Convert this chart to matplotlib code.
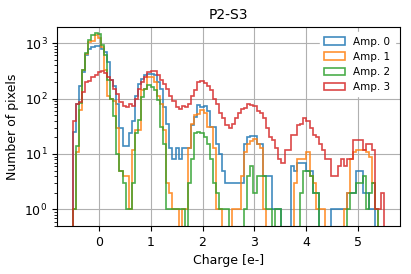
import numpy as np
import matplotlib
matplotlib.use("Agg")
import matplotlib.pyplot as plt

# histogram counts per bin, 100 bins of 0.06 e- from -0.5 to 5.5
edges = np.linspace(-0.5, 5.5, 101)

amp0 = [25, 80, 170, 300, 600, 800, 850, 900, 880, 800, 700, 450, 220, 170, 80, 30, 14, 14, 24, 40,
        110, 180, 230, 270, 280, 280, 270, 200, 150, 70, 35, 13, 8, 13, 8, 13, 13, 13, 34, 47,
        78, 70, 72, 60, 31, 31, 15, 10, 5, 3, 3, 3, 3, 3, 3, 15, 20, 21, 21, 15,
        15, 4, 4, 4, 1, 1, 1, 0, 0, 0, 6, 5, 7, 7, 7, 5, 5, 2, 2, 0,
        0, 0, 0, 1, 1, 1, 1, 1, 2, 2, 2, 5, 5, 2, 2, 1, 1, 0, 0, 0]

amp1 = [1, 11, 63, 330, 650, 1050, 1100, 1380, 1250, 850, 330, 110, 100, 90, 30, 5, 4, 4, 1, 12,
        27, 27, 145, 150, 245, 245, 200, 110, 80, 27, 3, 2, 1, 1, 0, 1, 1, 13, 35, 50,
        52, 62, 55, 31, 31, 13, 1, 1, 0, 0, 0, 1, 1, 1, 4, 11, 15, 17, 19, 15,
        13, 1, 0, 0, 0, 0, 0, 0, 0, 0, 0, 3, 8, 8, 8, 11, 4, 3, 1, 1,
        1, 0, 0, 0, 0, 0, 0, 1, 2, 8, 11, 12, 12, 12, 11, 9, 3, 1, 0, 0]

amp2 = [1, 14, 84, 330, 670, 1140, 1400, 1500, 1450, 930, 600, 220, 100, 48, 10, 5, 3, 1, 1, 3,
        24, 41, 107, 152, 175, 160, 140, 95, 31, 15, 1, 1, 1, 1, 1, 1, 0, 3, 8, 24,
        25, 24, 20, 15, 8, 3, 2, 1, 1, 1, 0, 0, 0, 0, 0, 1, 4, 6, 2, 4,
        4, 4, 1, 1, 0, 1, 1, 0, 0, 0, 0, 0, 0, 2, 5, 5, 4, 2, 2, 0,
        0, 0, 0, 0, 0, 0, 0, 0, 1, 2, 2, 3, 3, 4, 1, 2, 3, 1, 0, 0]

amp3 = [40, 80, 85, 130, 200, 210, 250, 270, 300, 320, 290, 250, 220, 150, 120, 85, 75, 70, 80, 75,
        100, 150, 200, 250, 300, 320, 310, 270, 220, 180, 150, 110, 90, 70, 65, 75, 70, 80, 110, 140,
        200, 210, 190, 170, 140, 100, 80, 55, 45, 33, 30, 35, 45, 55, 65, 68, 80, 78, 75, 60,
        55, 45, 30, 20, 18, 13, 8, 7, 12, 12, 22, 22, 34, 35, 44, 40, 30, 22, 20, 15,
        12, 8, 8, 4, 4, 6, 8, 6, 8, 8, 18, 18, 18, 12, 15, 15, 12, 1, 1, 2]

labels = ['Amp. 0', 'Amp. 1', 'Amp. 2', 'Amp. 3']
centers = 0.5 * (edges[:-1] + edges[1:])

fig = plt.figure(figsize=(4.11, 2.74), dpi=100)
ax = fig.add_axes([0.139, 0.175, 0.834, 0.726])

for counts, lab in zip([amp0, amp1, amp2, amp3], labels):
    ax.hist(centers, bins=edges, weights=counts, histtype='step', log=True,
            label=lab, linewidth=1.2, alpha=0.85)

ax.set_xlim(-0.8, 5.8)
ax.set_ylim(0.5, 1950)
ax.grid(True, color='#b0b0b0', linewidth=0.8)
ax.set_axisbelow(True)
ax.tick_params(labelsize=9)
ax.set_xlabel('Charge [e-]', fontsize=9)
ax.set_ylabel('Number of pixels', fontsize=9)
ax.set_title('P2-S3', fontsize=10)
leg = ax.legend(loc='upper right', fontsize=7.5, framealpha=1)
leg.get_frame().set_edgecolor('white')

fig.savefig('out.png', dpi=100)
